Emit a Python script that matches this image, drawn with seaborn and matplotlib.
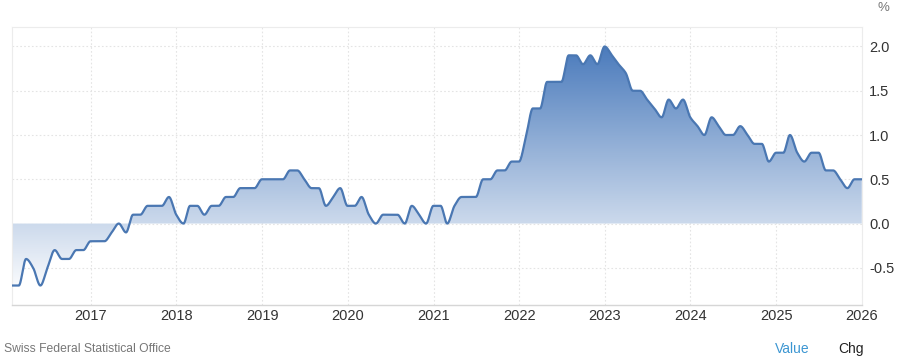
import numpy as np
import pandas as pd
import matplotlib
matplotlib.use("Agg")
import matplotlib.pyplot as plt
import matplotlib.dates as mdates
from matplotlib.colors import LinearSegmentedColormap
import seaborn as sns

# ---- data (monthly, Jan 2016 - Dec 2025) ----
values = [
    -0.7, -0.7, -0.4, -0.5, -0.7, -0.5, -0.3, -0.4, -0.4, -0.3, -0.3, -0.2,   # 2016
    -0.2, -0.2, -0.1, 0.0, -0.1, 0.1, 0.1, 0.2, 0.2, 0.2, 0.3, 0.1,          # 2017
    0.0, 0.2, 0.2, 0.1, 0.2, 0.2, 0.3, 0.3, 0.4, 0.4, 0.4, 0.5,              # 2018
    0.5, 0.5, 0.5, 0.6, 0.6, 0.5, 0.4, 0.4, 0.2, 0.3, 0.4, 0.2,              # 2019
    0.2, 0.3, 0.1, 0.0, 0.1, 0.1, 0.1, 0.0, 0.2, 0.1, 0.0, 0.2,              # 2020
    0.2, 0.0, 0.2, 0.3, 0.3, 0.3, 0.5, 0.5, 0.6, 0.6, 0.7, 0.7,              # 2021
    1.0, 1.3, 1.3, 1.6, 1.6, 1.6, 1.9, 1.9, 1.8, 1.9, 1.8, 2.0,              # 2022
    1.9, 1.8, 1.7, 1.5, 1.5, 1.4, 1.3, 1.2, 1.4, 1.3, 1.4, 1.2,              # 2023
    1.1, 1.0, 1.2, 1.1, 1.0, 1.0, 1.1, 1.0, 0.9, 0.9, 0.7, 0.8,              # 2024
    0.8, 1.0, 0.8, 0.7, 0.8, 0.8, 0.6, 0.6, 0.5, 0.4, 0.5, 0.5,              # 2025
]
dates = pd.date_range("2016-01-31", periods=len(values), freq="ME")
year_ticks = list(range(2017, 2027))
y_ticks = [-0.5, 0.0, 0.5, 1.0, 1.5, 2.0]
source_text = "Swiss Federal Statistical Office"
unit_text = "%"

df = pd.DataFrame({"date": dates, "value": values})

# ---- smooth (monotone cubic) curve through the data for display ----
def pchip(x, y, xs):
    x = np.asarray(x, float); y = np.asarray(y, float)
    h = np.diff(x); d = np.diff(y) / h
    n = len(x); m = np.zeros(n)
    for k in range(1, n - 1):
        if d[k - 1] * d[k] > 0:
            w1 = 2 * h[k] + h[k - 1]; w2 = h[k] + 2 * h[k - 1]
            m[k] = (w1 + w2) / (w1 / d[k - 1] + w2 / d[k])
    m[0] = d[0] if d[0] * d[0] > 0 else 0.0
    m[-1] = d[-1] if d[-1] * d[-1] > 0 else 0.0
    idx = np.clip(np.searchsorted(x, xs) - 1, 0, n - 2)
    t = (xs - x[idx]) / h[idx]
    h00 = 2 * t**3 - 3 * t**2 + 1; h10 = t**3 - 2 * t**2 + t
    h01 = -2 * t**3 + 3 * t**2; h11 = t**3 - t**2
    return h00 * y[idx] + h10 * h[idx] * m[idx] + h01 * y[idx + 1] + h11 * h[idx] * m[idx + 1]

xnum = mdates.date2num(df["date"])
xs = np.linspace(xnum[0], xnum[-1], 3000)
ys = pchip(xnum, df["value"].values, xs)
smooth = pd.DataFrame({"x": xs, "y": ys})

# ---- figure ----
sns.set_theme(style="white")
plt.rcParams["font.family"] = ["Liberation Sans", "DejaVu Sans"]
fig = plt.figure(figsize=(9, 3.63), dpi=100)
ax = fig.add_axes([12 / 900, 1 - 305 / 363, 850 / 900, (305 - 27) / 363])

ymin, ymax = -0.92, 2.22
xmin = xnum[0]
xmax = mdates.date2num(pd.Timestamp("2026-01-01"))

# gradient fill between curve and zero
cmap = LinearSegmentedColormap.from_list("g", ["#ffffff", "#4b7bbc"])
grad = np.linspace(ymin, 2.0, 400)
norm_vals = ((grad - (-0.8)) / (2.0 - (-0.8))).clip(0, 1)
img = ax.imshow(norm_vals[:, None], aspect="auto", cmap=cmap, vmin=0, vmax=1,
                extent=[xmin, xmax, ymin, 2.0], origin="lower", zorder=1)
poly = ax.fill_between(xs, ys, 0, color="none", lw=0)
clip_path = poly.get_paths()[0]
img.set_clip_path(clip_path, transform=ax.transData)

sns.lineplot(data=smooth, x="x", y="y", ax=ax, color="#4a77b2", lw=1.6, zorder=3)

ax.set_xlim(xmin, xmax)
ax.set_ylim(ymin, ymax)
ax.set_xlabel(""); ax.set_ylabel("")

ax.set_xticks([mdates.date2num(pd.Timestamp(f"{y}-01-01")) for y in year_ticks])
ax.set_xticklabels([str(y) for y in year_ticks])
ax.set_yticks(y_ticks)
ax.set_yticklabels([f"{v:.1f}" for v in y_ticks])
ax.yaxis.tick_right()
ax.tick_params(axis="both", length=0, labelsize=10.5, colors="#333333")
ax.tick_params(axis="x", pad=3)
ax.tick_params(axis="y", pad=5)

ax.grid(True, which="major", axis="both", color="#e4e4e4", linestyle=(0, (1.5, 2)), lw=0.8)
ax.set_axisbelow(True)
for s in ["top", "left", "right"]:
    ax.spines[s].set_color("#ececec"); ax.spines[s].set_linewidth(0.8)
ax.spines["bottom"].set_color("#d6d6d6"); ax.spines["bottom"].set_linewidth(1)

fig.text(883 / 900, 1 - 8 / 363, unit_text, ha="center", va="center", fontsize=9.5, color="#777777")
fig.text(4 / 900, 1 - 349 / 363, source_text, ha="left", va="center", fontsize=8.7, color="#777777")
fig.text(775 / 900, 1 - 349 / 363, "Value", ha="left", va="center", fontsize=10, color="#3c96d2")
fig.text(838 / 900, 1 - 349 / 363, "Chg", ha="left", va="center", fontsize=10, color="#222222")

fig.savefig("out.png", dpi=100)
